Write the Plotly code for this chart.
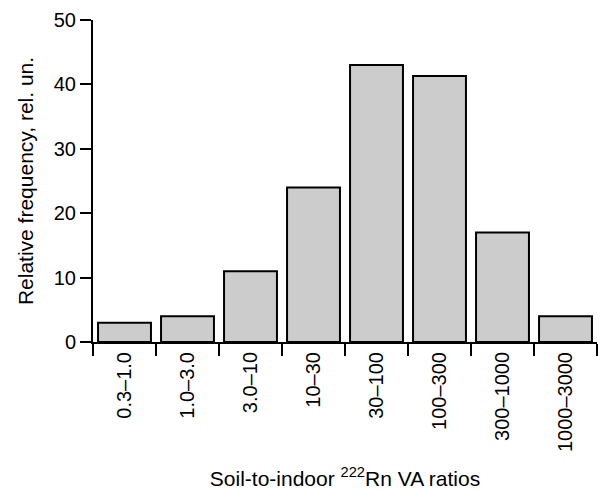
import plotly.graph_objects as go

# Soil-to-indoor radon volumetric activity ratio classes and their frequencies
categories = ["0.3–1.0", "1.0–3.0", "3.0–10", "10–30", "30–100", "100–300", "300–1000", "1000–3000"]
frequency = [3, 4, 11, 24, 43, 41.3, 17, 4]
y_ticks = [0, 10, 20, 30, 40, 50]

font_family = "Liberation Sans, Arial, sans-serif"

fig = go.Figure(
    go.Bar(
        x=categories,
        y=frequency,
        marker=dict(color="#cccccc", line=dict(color="black", width=2)),
        showlegend=False,
    )
)

fig.update_layout(
    width=614,
    height=490,
    margin=dict(l=93, r=17, t=20, b=148),
    paper_bgcolor="white",
    plot_bgcolor="white",
    bargap=0.16,
    font=dict(family=font_family, size=20, color="black"),
)

fig.update_xaxes(
    type="category",
    automargin=False,
    tickson="boundaries",
    ticks="outside",
    ticklen=12,
    tickwidth=1.5,
    tickcolor="black",
    tickangle=-90,
    showline=True,
    linecolor="black",
    linewidth=2,
    showgrid=False,
    zeroline=False,
    tickfont=dict(size=20),
    title=dict(text="Soil-to-indoor <sup>222</sup>Rn VA ratios", font=dict(size=21), standoff=20),
)

fig.update_yaxes(
    automargin=False,
    range=[0, 50],
    tickvals=y_ticks,
    ticks="outside",
    ticklen=11,
    tickwidth=1.5,
    tickcolor="black",
    showline=True,
    linecolor="black",
    linewidth=2,
    showgrid=False,
    zeroline=False,
    tickfont=dict(size=20),
    title=dict(text="Relative frequency, rel. un.", font=dict(size=21), standoff=14),
)

fig.write_html("out.html")
